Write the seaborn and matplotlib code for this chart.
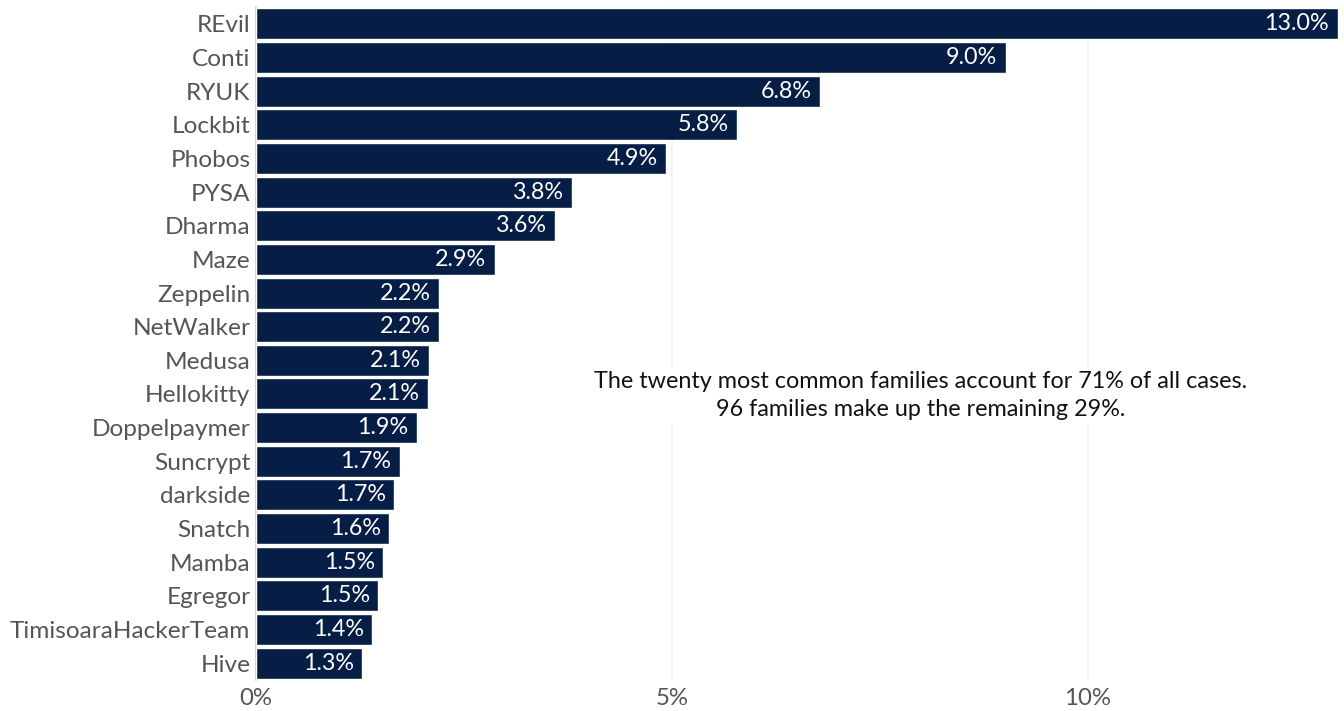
import matplotlib
matplotlib.use("Agg")
import matplotlib.pyplot as plt
import seaborn as sns
import pandas as pd

families = ["REvil", "Conti", "RYUK", "Lockbit", "Phobos", "PYSA", "Dharma", "Maze",
            "Zeppelin", "NetWalker", "Medusa", "Hellokitty", "Doppelpaymer", "Suncrypt",
            "darkside", "Snatch", "Mamba", "Egregor", "TimisoaraHackerTeam", "Hive"]
shares = [13.0, 9.01, 6.78, 5.78, 4.93, 3.80, 3.60, 2.87, 2.20, 2.20,
          2.08, 2.07, 1.93, 1.73, 1.66, 1.60, 1.53, 1.47, 1.40, 1.28]
x_ticks = [0, 5, 10]
x_tick_labels = ["0%", "5%", "10%"]
note = "The twenty most common families account for 71% of all cases.\n96 families make up the remaining 29%."

df = pd.DataFrame({"family": families, "share": shares})

sns.set_theme(style="white")
plt.rcParams["font.family"] = ["Lato", "DejaVu Sans"]

fig = plt.figure(figsize=(13.44, 7.11), dpi=100)
ax = fig.add_axes([256 / 1344, 1 - 680 / 711, (1340 - 256) / 1344, (680 - 7) / 711])

bar_color = "#061e46"
sns.barplot(data=df, x="share", y="family", color=bar_color, saturation=1,
            width=0.92, ax=ax, orient="h")

ax.set_xlim(0, 13.03)
ax.set_xticks(x_ticks)
ax.set_xticklabels(x_tick_labels)
ax.set_xlabel("")
ax.set_ylabel("")
ax.grid(axis="x", color="#f0f0f0", linewidth=1.2)
ax.set_axisbelow(True)
for s in ["top", "right", "bottom"]:
    ax.spines[s].set_visible(False)
ax.spines["left"].set_color("#cccccc")
ax.spines["left"].set_linewidth(1.2)
ax.spines["left"].set_zorder(0.5)
ax.tick_params(axis="y", length=0, pad=4, labelsize=17.6, labelcolor="#555555")
ax.tick_params(axis="x", length=0, pad=6, labelsize=17.3, labelcolor="#555555")

for i, v in enumerate(shares):
    ax.text(v - 0.1, i, f"{v:.1f}%", ha="right", va="center", color="white",
            fontsize=16.8)

ax.text(7.99, 11.05, note, ha="center", va="center", fontsize=16.8, color="#111111",
        linespacing=1.42,
        bbox=dict(facecolor="white", edgecolor="none", pad=3))

fig.savefig("out.png", dpi=100)
